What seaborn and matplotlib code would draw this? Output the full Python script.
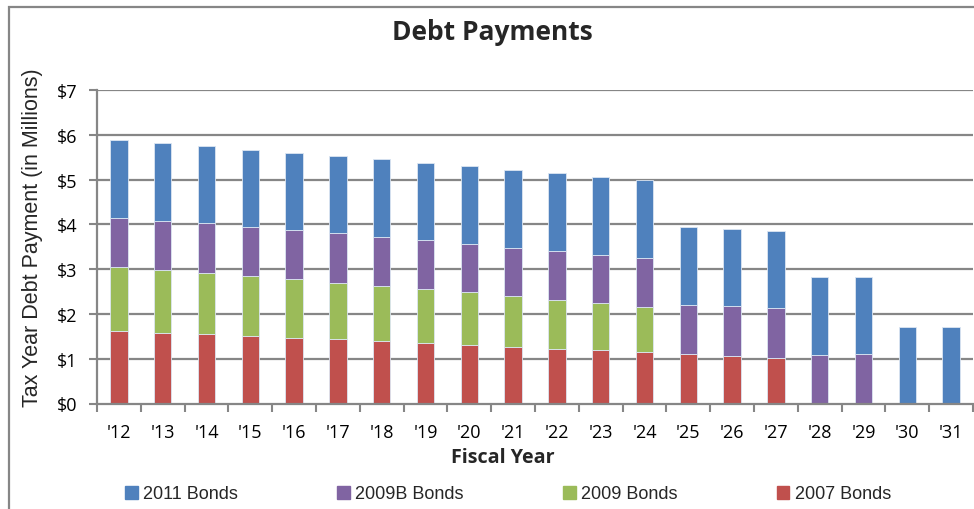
import matplotlib
matplotlib.use("Agg")
import matplotlib.pyplot as plt
import matplotlib.patches as mpatches
from matplotlib.ticker import FixedLocator, FuncFormatter
import numpy as np
import pandas as pd
import seaborn as sns

years = ["'12", "'13", "'14", "'15", "'16", "'17", "'18", "'19", "'20", "'21",
         "'22", "'23", "'24", "'25", "'26", "'27", "'28", "'29", "'30", "'31"]
bonds_2007 = [1.62, 1.58, 1.55, 1.50, 1.46, 1.43, 1.39, 1.35, 1.31, 1.26,
              1.22, 1.19, 1.15, 1.11, 1.06, 1.02, 0, 0, 0, 0]
bonds_2009 = [1.43, 1.40, 1.36, 1.34, 1.31, 1.27, 1.24, 1.20, 1.17, 1.14,
              1.09, 1.05, 1.00, 0, 0, 0, 0, 0, 0, 0]
bonds_2009b = [1.10, 1.10, 1.11, 1.10, 1.11, 1.10, 1.09, 1.09, 1.08, 1.08,
               1.10, 1.08, 1.09, 1.09, 1.11, 1.11, 1.09, 1.11, 0, 0]
bonds_2011 = [1.73, 1.73, 1.72, 1.73, 1.72, 1.73, 1.73, 1.74, 1.74, 1.73,
              1.73, 1.74, 1.74, 1.74, 1.73, 1.73, 1.74, 1.72, 1.71, 1.71]

series_names = ["2007 Bonds", "2009 Bonds", "2009B Bonds", "2011 Bonds"]
series_vals = [bonds_2007, bonds_2009, bonds_2009b, bonds_2011]
colors = {"2011 Bonds": "#4F81BD", "2009B Bonds": "#8064A2",
          "2009 Bonds": "#9BBB59", "2007 Bonds": "#C0504D"}
yticks = [0, 1, 2, 3, 4, 5, 6, 7]

sns.set_theme(style="white")
plt.rcParams["font.family"] = ["Open Sans", "DejaVu Sans"]

W, H = 974, 510
fig = plt.figure(figsize=(W / 100, H / 100), dpi=100)
ax = fig.add_axes([97 / W, (H - 404.5) / H, 876 / W, 313.5 / H])

grid_c = "#868686"
bottom = np.zeros(len(years))
for name, vals in zip(series_names, series_vals):
    df = pd.DataFrame({"year": years, "value": vals})
    sns.barplot(data=df, x="year", y="value", bottom=bottom, color=colors[name],
                width=0.4, ax=ax, saturation=1, edgecolor="#DCE6F2", linewidth=0.6,
                zorder=3)
    bottom = bottom + np.array(vals)

ax.set_xlim(-0.5, len(years) - 0.5)
ax.set_ylim(0, 7)
ax.set_yticks(yticks)
ax.yaxis.set_major_formatter(FuncFormatter(lambda v, p: f"${int(v)}"))
ax.grid(False)
for y in yticks[1:]:
    ax.axhline(y, color=grid_c, lw=1.6, zorder=1)

ax.set_xlabel("")
ax.set_ylabel("")
ax.xaxis.set_minor_locator(FixedLocator(np.arange(-0.5, len(years), 1.0)))
ax.tick_params(axis="x", which="major", length=0, pad=14, labelsize=13,
               labelcolor="#000000")
ax.tick_params(axis="x", which="minor", length=6, width=1.5, color=grid_c,
               direction="out", bottom=True)
ax.tick_params(axis="y", which="major", length=6, width=1.5, color=grid_c,
               direction="out", left=True, pad=8, labelsize=13, labelcolor="#000000")
for lab in ax.get_xticklabels() + ax.get_yticklabels():
    lab.set_fontfamily(["Open Sans", "DejaVu Sans"])

for s in ["top", "right"]:
    ax.spines[s].set_visible(False)
for s in ["left", "bottom"]:
    ax.spines[s].set_color(grid_c)
    ax.spines[s].set_linewidth(1.6)
    ax.spines[s].set_zorder(4)

fig.text(492 / W, 1 - 32 / H, "Debt Payments", ha="center", va="center",
         fontsize=19, fontweight="bold", family=["Open Sans", "DejaVu Sans"])
fig.text(503 / W, 1 - 458 / H, "Fiscal Year", ha="center", va="center",
         fontsize=14.2, fontweight="bold", family=["Open Sans", "DejaVu Sans"])
fig.text(33 / W, 1 - 238 / H, "Tax Year Debt Payment (in Millions)", ha="center",
         va="center", rotation=90, fontsize=15.5,
         family=["Liberation Sans", "DejaVu Sans"])

order = ["2011 Bonds", "2009B Bonds", "2009 Bonds", "2007 Bonds"]
handles = [mpatches.Patch(color=colors[n], label=n) for n in order]
leg = fig.legend(handles=handles, loc="center", bbox_to_anchor=(508 / W, 1 - 495 / H),
                 ncol=4, frameon=False, handlelength=0.7, handleheight=0.7,
                 handletextpad=0.3, columnspacing=5.5,
                 prop={"family": "Liberation Sans", "size": 13})

border = mpatches.Rectangle((8.5 / W, -0.1), 1.2, 1 - 7.5 / H + 0.1,
                            transform=fig.transFigure, fill=False,
                            edgecolor=grid_c, lw=1.6, zorder=0)
fig.patches.append(border)

fig.savefig("out.png", dpi=100, facecolor="white")
